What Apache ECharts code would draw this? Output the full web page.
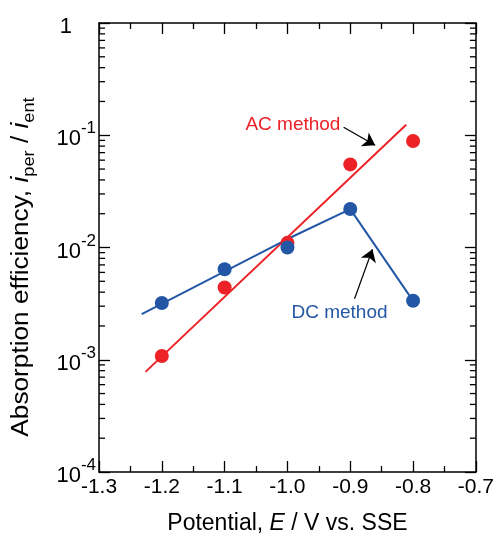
<!DOCTYPE html>
<html>
<head>
<meta charset="utf-8">
<script src="https://cdn.jsdelivr.net/npm/echarts@6/dist/echarts.min.js"></script>
<style>
  html, body { margin: 0; padding: 0; background: #ffffff; }
  #chart { width: 497px; height: 540px; }
</style>
</head>
<body>
<div id="chart"></div>
<script>
// ---- data ----
const potentials = [-1.2, -1.1, -1.0, -0.9, -0.8];
const acValues = [1.08e-3, 4.4e-3, 1.1e-2, 5.5e-2, 8.9e-2];
const dcValues = [3.2e-3, 6.4e-3, 1.0e-2, 2.2e-2, 3.35e-3];
// AC fitted straight line (end points)
const acFitX = [-1.226, -0.811];
const acFitY = [7.8e-4, 0.124];
// DC connecting line (start extension, then through points)
const dcLineX = [-1.232, -1.0, -0.9, -0.8];
const dcLineY = [2.55e-3, 1.19e-2, 2.2e-2, 3.35e-3];
// annotations
const acLabel = { text: 'AC method', x: -0.9913, y: 0.125 };
const dcLabel = { text: 'DC method', x: -0.9172, y: 2.61e-3 };
const acArrow = { from: [-0.9106, 0.118], to: [-0.8604, 0.0813] };
const dcArrow = { from: [-0.8932, 3.5e-3], to: [-0.8647, 9.66e-3] };
// axes
const xMin = -1.3, xMax = -0.7, xStep = 0.1;
const yMin = 1e-4, yMax = 1;
const xTitle = '{t|Potential, }{i|E}{t| / V vs. SSE}';
const yTitle = '{t|Absorption efficiency, }{i|i}{sub|per}{t| / }{i|i}{sub|ent}';

const RED = '#ec2227';
const BLUE = '#2357a5';
const FONT = 'Liberation Sans';

const zip = (a, b) => a.map((v, i) => [v, b[i]]);

// minor tick positions on the log axis (2..9 per decade)
const yMinorTicks = [];
for (let e = -4; e < 0; e++) {
  for (let k = 2; k <= 9; k++) yMinorTicks.push([xMin, k * Math.pow(10, e)]);
}

const chart = echarts.init(document.getElementById('chart'), null, { renderer: 'canvas' });

const axisLineStyle = { color: '#000', width: 1.5 };
const tickStyle = { color: '#000', width: 1.3 };

const option = {
  animation: false,
  backgroundColor: '#ffffff',
  textStyle: { fontFamily: FONT, color: '#000' },
  grid: { left: 99, right: 19, top: 23, bottom: 63 },
  graphic: [
    {
      type: 'text', x: 24, y: 267, rotation: Math.PI / 2, scaleX: 1.14, silent: true,
      style: {
        text: yTitle, align: 'center', verticalAlign: 'middle',
        rich: {
          t: { fontSize: 23, fontFamily: FONT, fill: '#000', lineHeight: 27, verticalAlign: 'top' },
          i: { fontSize: 23, fontFamily: FONT, fill: '#000', fontStyle: 'italic', lineHeight: 27, verticalAlign: 'top' },
          sub: { fontSize: 16, fontFamily: FONT, fill: '#000', lineHeight: 12, verticalAlign: 'bottom' }
        }
      }
    }
  ],
  xAxis: [
    {
      type: 'value', min: xMin, max: xMax, interval: xStep,
      position: 'bottom',
      axisLine: { lineStyle: axisLineStyle },
      axisTick: { inside: true, length: 11, lineStyle: tickStyle },
      minorTick: { show: true, splitNumber: 2, length: 6, lineStyle: tickStyle },
      splitLine: { show: false },
      axisLabel: {
        margin: 5, fontSize: 21, color: '#000', fontFamily: FONT,
        formatter: v => v.toFixed(1)
      },
      name: xTitle,
      nameLocation: 'middle', nameGap: 40,
      nameTextStyle: {
        rich: {
          t: { fontSize: 23, fontFamily: FONT, color: '#000' },
          i: { fontSize: 23, fontFamily: FONT, color: '#000', fontStyle: 'italic' }
        }
      }
    },
    {
      type: 'value', min: xMin, max: xMax, interval: xStep,
      position: 'top',
      axisLine: { lineStyle: axisLineStyle },
      axisTick: { inside: true, length: 11, lineStyle: tickStyle },
      minorTick: { show: true, splitNumber: 2, length: 6, lineStyle: tickStyle },
      splitLine: { show: false },
      axisLabel: { show: false }
    }
  ],
  yAxis: [
    {
      type: 'log', logBase: 10, min: yMin, max: yMax,
      position: 'left',
      axisLine: { show: true, lineStyle: axisLineStyle },
      axisTick: { show: true, inside: true, length: 11, lineStyle: tickStyle },
      splitLine: { show: false },
      axisLabel: {
        margin: 3, color: '#000', fontFamily: FONT,
        formatter: v => {
          const e = Math.round(Math.log10(v));
          if (e === 0) return '{one|1}';
          return '{b|10}{s|' + e + '}';
        },
        rich: {
          b: { fontSize: 22, fontFamily: FONT, color: '#000', lineHeight: 30, verticalAlign: 'bottom' },
          s: { fontSize: 17, fontFamily: FONT, color: '#000', lineHeight: 17, verticalAlign: 'top' },
          one: { fontSize: 22, fontFamily: FONT, color: '#000', lineHeight: 30, verticalAlign: 'bottom', padding: [0, 24, 0, 0] }
        }
      }
    },
    {
      type: 'log', logBase: 10, min: yMin, max: yMax,
      position: 'right',
      axisLine: { show: true, lineStyle: axisLineStyle },
      axisTick: { show: true, inside: true, length: 11, lineStyle: tickStyle },
      splitLine: { show: false },
      axisLabel: { show: false }
    }
  ],
  series: [
    {
      name: 'yMinorTicks', type: 'custom', coordinateSystem: 'cartesian2d',
      xAxisIndex: 0, yAxisIndex: 0, silent: true, clip: false, z: 1,
      data: yMinorTicks,
      renderItem: (params, api) => {
        const y = api.value(1);
        const pl = api.coord([xMin, y]);
        const pr = api.coord([xMax, y]);
        const st = { stroke: '#000', lineWidth: 1.3 };
        return {
          type: 'group',
          children: [
            { type: 'line', shape: { x1: pl[0], y1: pl[1], x2: pl[0] + 6, y2: pl[1] }, style: st },
            { type: 'line', shape: { x1: pr[0], y1: pr[1], x2: pr[0] - 6, y2: pr[1] }, style: st }
          ]
        };
      }
    },
    {
      name: 'AC fit', type: 'line', data: zip(acFitX, acFitY),
      showSymbol: false, symbol: 'none',
      lineStyle: { color: RED, width: 2 }, z: 2, silent: true,
      markLine: {
        silent: true, animation: false,
        symbol: ['none', 'arrow'], symbolSize: 12,
        lineStyle: { color: '#000', width: 1.2, type: 'solid' },
        itemStyle: { color: '#000' },
        label: { show: false },
        data: [
          [{ coord: acArrow.from }, { coord: acArrow.to }],
          [{ coord: dcArrow.from }, { coord: dcArrow.to }]
        ]
      },
      markPoint: {
        silent: true, animation: false,
        symbol: 'circle', symbolSize: 0,
        data: [
          { coord: [acLabel.x, acLabel.y], label: { show: true, position: 'inside', formatter: acLabel.text, color: RED, fontSize: 19, fontFamily: FONT } },
          { coord: [dcLabel.x, dcLabel.y], label: { show: true, position: 'inside', formatter: dcLabel.text, color: BLUE, fontSize: 19, fontFamily: FONT } }
        ]
      }
    },
    {
      name: 'DC line', type: 'line', data: zip(dcLineX, dcLineY),
      showSymbol: false, symbol: 'none',
      lineStyle: { color: BLUE, width: 2 }, z: 2, silent: true
    },
    {
      name: 'AC', type: 'scatter', data: zip(potentials, acValues),
      symbol: 'circle', symbolSize: 14,
      itemStyle: { color: RED, opacity: 1 }, z: 3
    },
    {
      name: 'DC', type: 'scatter', data: zip(potentials, dcValues),
      symbol: 'circle', symbolSize: 14,
      itemStyle: { color: BLUE, opacity: 1 }, z: 4
    }
  ]
};

chart.setOption(option);
</script>
</body>
</html>
